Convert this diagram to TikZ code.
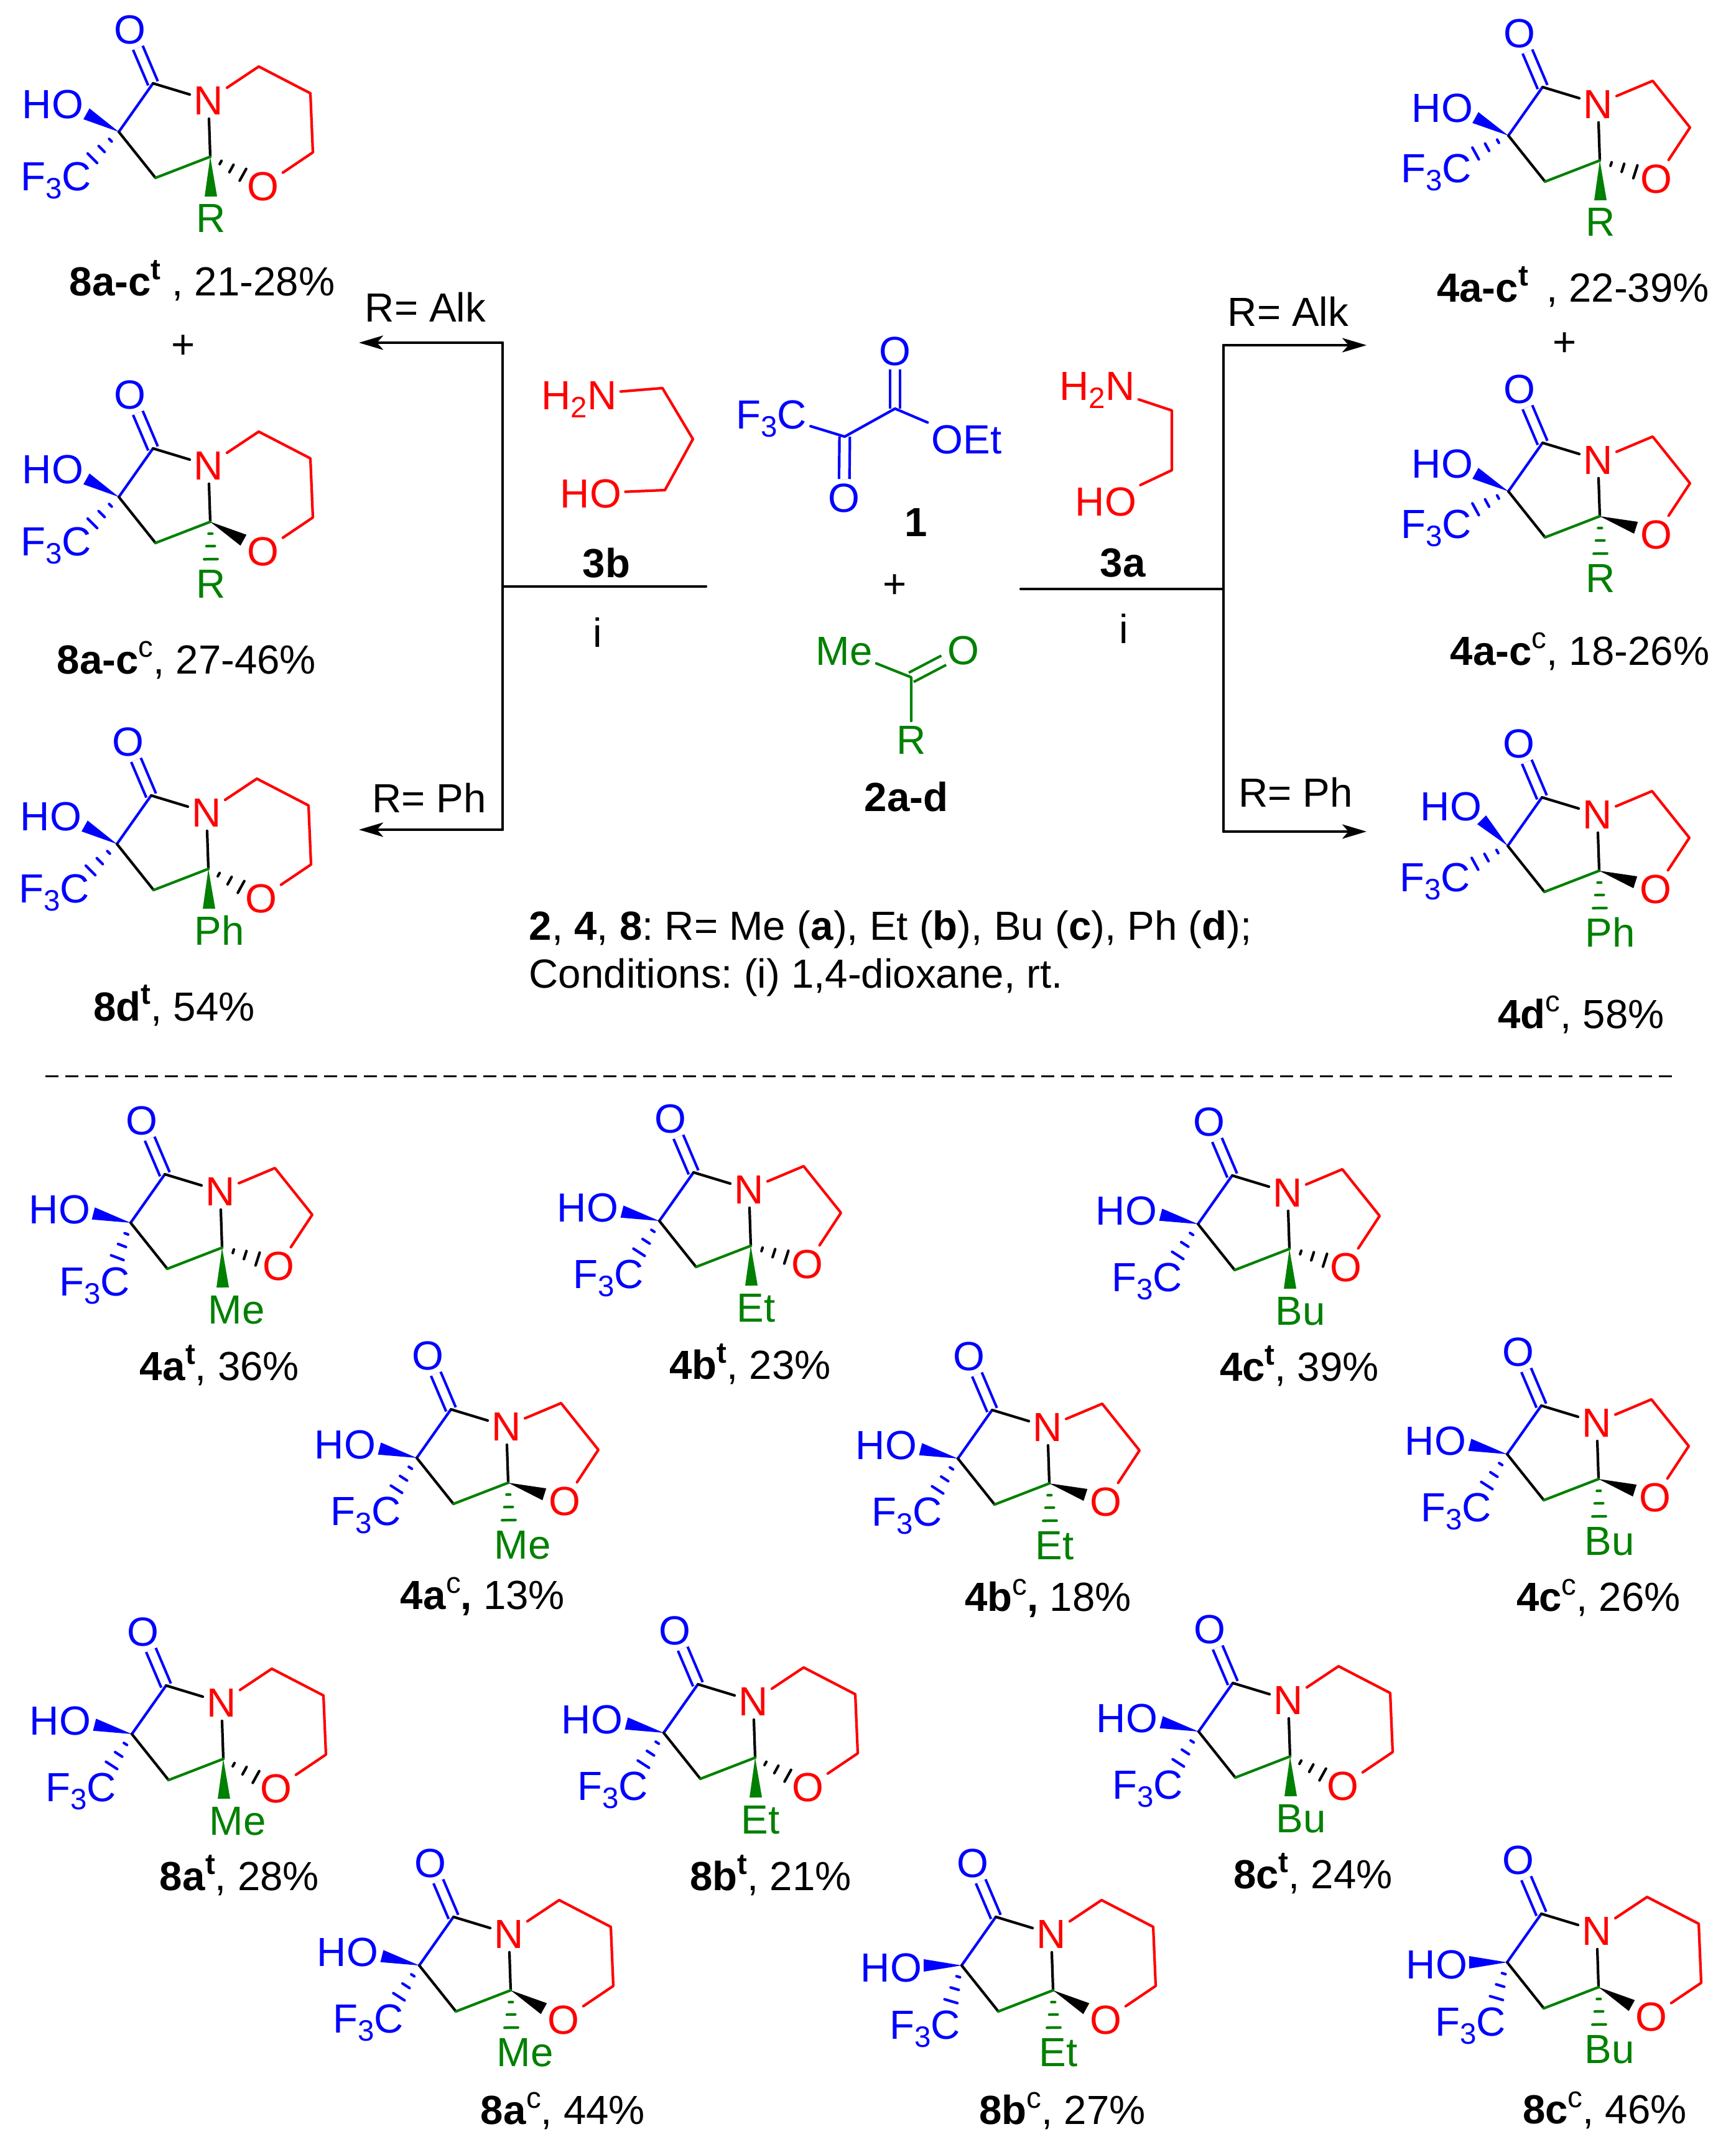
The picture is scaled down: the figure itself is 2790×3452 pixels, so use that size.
\documentclass[tikz,border=0pt]{standalone}
\usepackage{fontspec}
\setmainfont{Liberation Sans}
\usetikzlibrary{calc,arrows.meta}
\definecolor{chemgreen}{RGB}{0,128,0}
\tikzset{
	bond/.style={line width=.042cm,line cap=round,line join=round},
	dblbond/.style={line width=.042cm,double,double distance=.125cm},
	atom/.style={inner sep=1.6pt,text height=.47cm,text depth=0pt},
	atomb/.style={atom,text=blue},
	atomr/.style={atom,text=red},
	atomg/.style={atom,text=chemgreen},
	lab/.style={inner sep=0pt,anchor=base},
	arr/.style={bond,-{Stealth[length=.39cm,width=.23cm,inset=.1cm]}}
}
\newcommand{\lowtxt}[1]{\raisebox{-3.7pt}{\fontsize{13.5}{13.5}\selectfont #1}}
\newcommand{\suptxt}[1]{\raisebox{7.4pt}{\fontsize{13.5}{13.5}\selectfont\bfseries #1}}
\newcommand{\supthin}[1]{\raisebox{7.4pt}{\fontsize{13.5}{13.5}\selectfont #1}}
\newcommand{\wedgebond}[3]{\fill[#3] (#1) -- ($(#2)!.1cm!90:(#1)$) -- ($(#2)!.1cm!-90:(#1)$) -- cycle;}
\newcommand{\hashbond}[3]{\foreach \d/\w in {.19cm/.03cm,.39cm/.068cm,.6cm/.108cm}
	\draw[bond,#3] ($(#1)!\d!(#2)!\w!90:(#2)$) -- ($(#1)!\d!(#2)!\w!-90:(#2)$);}
\newcommand{\setpose}[4]{\def\hoat{#1}\def\wedgeat{#2}\def\fcat{#3}\def\hashat{#4}}
\newcommand{\poseup}{\setpose{-106,-45}{-52,-29}{-101,71}{-42,42}}
\newcommand{\poseupf}{\setpose{-106,-45}{-53,-29}{-116,52}{-53,29}}
\newcommand{\posetop}{\setpose{-91,-64}{-42,-42}{-117,50}{-53,29}}
\newcommand{\posemid}{\setpose{-115,-22}{-60,-15}{-82,85}{-33,51}}
\newcommand{\posenear}{\setpose{-114,-22}{-60,-15}{-58,94}{-21,55}}
\newcommand{\poselow}{\setpose{-113,3}{-61,0}{-59,95}{-17,57}}
\newcommand{\ringfive}[1]{
	\node[atomr] (#1x) at (238,69) {O};
	\draw[bond,red] (#1n) -- (232,-88) -- (292,-13) -- (#1x);}
\newcommand{\ringsix}[1]{
	\node[atomr] (#1x) at (232,87) {O};
	\draw[bond,red] (#1n) -- (225,-105) -- (308,-62) -- (312,33) -- (#1x);}
\newcommand{\stereot}[1]{
	\wedgebond{#1sp}{#1rw}{chemgreen}
	\hashbond{#1sp}{#1x}{black}}
\newcommand{\stereoc}[1]{
	\coordinate (#1xw) at ($(#1sp)!.61cm!(#1x)$);
	\wedgebond{#1sp}{#1xw}{black}
	\hashbond{#1sp}{#1rw}{chemgreen}}
\newcommand{\lactam}[6]{
	\csname pose#5\endcsname
	\begin{scope}[shift={(#2)}]
		\coordinate (#1q) at (0,0);
		\coordinate (#1co) at (55,-78);
		\coordinate (#1ch) at (59,74);
		\coordinate (#1sp) at (147,40);
		\coordinate (#1rw) at (148,104);
		\coordinate (#1hw) at (\wedgeat);
		\coordinate (#1fh) at (\hashat);
		\node[atomb] (#1o) at (18,-165) {O};
		\node[atomr] (#1n) at (144,-51) {N};
		\node[atomb] (#1ho) at (\hoat) {HO};
		\node[atomb] (#1f) at (\fcat) {F\lowtxt{3}C};
		\node[atomg,anchor=base west,inner sep=0pt] (#1r) at (124,162) {#6};
		\csname ring#3\endcsname{#1}
		\draw[dblbond,blue] (#1co) -- (#1o);
		\draw[bond,blue] (#1q) -- (#1co);
		\draw[bond] (#1co) -- (#1n);
		\draw[bond] (#1n) -- (#1sp);
		\draw[bond] (#1q) -- (#1ch);
		\draw[bond,chemgreen] (#1ch) -- (#1sp);
		\wedgebond{#1q}{#1hw}{blue}
		\hashbond{#1q}{#1fh}{blue}
		\csname stereo#4\endcsname{#1}
	\end{scope}}
\begin{document}
\frenchspacing
\begin{tikzpicture}[x=.01cm,y=-.01cm,every node/.style={font=\fontsize{18.6}{20}\selectfont}]
	\useasboundingbox (0,0) rectangle (2790,3452);
	\lactam{s8t}{191,212}{six}{t}{up}{R}
	\lactam{s8c}{191,799}{six}{c}{up}{R}
	\lactam{s8d}{188,1357}{six}{t}{up}{Ph}
	\lactam{f4t}{2425,218}{five}{t}{upf}{R}
	\lactam{f4c}{2425,790}{five}{c}{upf}{R}
	\lactam{f4d}{2424,1360}{five}{c}{top}{Ph}
	\lactam{a4t}{210,1966}{five}{t}{near}{Me}
	\lactam{b4t}{1060,1963}{five}{t}{mid}{Et}
	\lactam{c4t}{1926,1968}{five}{t}{mid}{Bu}
	\lactam{a4c}{670,2344}{five}{c}{mid}{Me}
	\lactam{b4c}{1540,2345}{five}{c}{mid}{Et}
	\lactam{c4c}{2423,2338}{five}{c}{mid}{Bu}
	\lactam{a8t}{212,2788}{six}{t}{mid}{Me}
	\lactam{b8t}{1067,2786}{six}{t}{mid}{Et}
	\lactam{c8t}{1927,2784}{six}{t}{mid}{Bu}
	\lactam{a8c}{674,3160}{six}{c}{mid}{Me}
	\lactam{b8c}{1546,3160}{six}{c}{low}{Et}
	\lactam{c8c}{2423,3155}{six}{c}{low}{Bu}
	\node[lab] (ls8t) at (325,476) {\textbf{8a-c}\suptxt{t} , 21-28\%};
	\node[lab] (ls8c) at (300,1083) {\textbf{8a-c}\supthin{c}, 27-46\%};
	\node[lab] (ls8d) at (280,1641) {\textbf{8d}\suptxt{t}, 54\%};
	\node[lab] (lf4t) at (2529,486) {\textbf{4a-c}\suptxt{t} \,, 22-39\%};
	\node[lab] (lf4c) at (2540,1069) {\textbf{4a-c}\supthin{c}, 18-26\%};
	\node[lab] (lf4d) at (2542,1653) {\textbf{4d}\supthin{c}, 58\%};
	\node[lab] (la4t) at (353,2219) {\textbf{4a}\suptxt{t}, 36\%};
	\node[lab] (lb4t) at (1206,2217) {\textbf{4b}\suptxt{t}, 23\%};
	\node[lab] (lc4t) at (2089,2220) {\textbf{4c}\suptxt{t}, 39\%};
	\node[lab] (la4c) at (776,2587) {\textbf{4a}\supthin{c}\textbf{,} 13\%};
	\node[lab] (lb4c) at (1685,2590) {\textbf{4b}\supthin{c}\textbf{,} 18\%};
	\node[lab] (lc4c) at (2570,2590) {\textbf{4c}\supthin{c}, 26\%};
	\node[lab] (la8t) at (385,3039) {\textbf{8a}\suptxt{t}, 28\%};
	\node[lab] (lb8t) at (1239,3039) {\textbf{8b}\suptxt{t}, 21\%};
	\node[lab] (lc8t) at (2111,3036) {\textbf{8c}\suptxt{t}, 24\%};
	\node[lab] (la8c) at (905,3415) {\textbf{8a}\supthin{c}, 44\%};
	\node[lab] (lb8c) at (1708,3415) {\textbf{8b}\supthin{c}, 27\%};
	\node[lab] (lc8c) at (2580,3414) {\textbf{8c}\supthin{c}, 46\%};
	\node (plusl) at (295,558) {+};
	\node (plusr) at (2516,554) {+};
	\node (plusm) at (1439,943) {+};
	% reagents
	\node[atomr] (amb) at (931,635) {H\lowtxt{2}N};
	\node[atomr] (hob) at (950,793) {HO};
	\draw[bond,red] (amb) -- (1065,624) -- (1114,706) -- (1069,788) -- (hob);
	\node[atomr] (ama) at (1764,620) {H\lowtxt{2}N};
	\node[atomr] (hoa) at (1778,806) {HO};
	\draw[bond,red] (ama) -- (1884,660) -- (1884,756) -- (hoa);
	\node[atomb] (kf) at (1240,666) {F\lowtxt{3}C};
	\coordinate (kc) at (1358,702);
	\coordinate (ke) at (1439,657);
	\node[atomb] (koa) at (1357,800) {O};
	\node[atomb] (kob) at (1439,564) {O};
	\node[atomb] (ket) at (1554,706) {OEt};
	\draw[dblbond,blue] (kc) -- (koa);
	\draw[dblbond,blue] (ke) -- (kob);
	\draw[bond,blue] (kf) -- (kc) -- (ke) -- (ket);
	\node[atomg] (mme) at (1357,1046) {Me};
	\coordinate (mc) at (1465,1089);
	\node[atomg] (mo) at (1549,1045) {O};
	\node[atomg] (mr) at (1465,1189) {R};
	\draw[dblbond,chemgreen] (mc) -- (mo);
	\draw[bond,chemgreen] (mme) -- (mc) -- (mr);
	\node[lab,font=\fontsize{18.6}{20}\selectfont\bfseries] (n1) at (1473,862) {1};
	\node[lab,font=\fontsize{18.6}{20}\selectfont\bfseries] (n2) at (1457,1304) {2a-d};
	\node[lab,font=\fontsize{18.6}{20}\selectfont\bfseries] (n3b) at (975,928) {3b};
	\node[lab,font=\fontsize{18.6}{20}\selectfont\bfseries] (n3a) at (1805,927) {3a};
	\node (ib) at (961,1017) {i};
	\node (ia) at (1807,1011) {i};
	% arrows
	\coordinate (lt) at (808,551);
	\coordinate (lb) at (808,1334);
	\coordinate (rt) at (1967,555);
	\coordinate (rb) at (1967,1337);
	\coordinate (lj) at (1135,943);
	\coordinate (rj) at (1641,947);
	\coordinate (lte) at (577,551);
	\coordinate (lbe) at (577,1334);
	\coordinate (rte) at (2197,555);
	\coordinate (rbe) at (2197,1337);
	\draw[bond] (lt) -- (lb);
	\draw[bond] (rt) -- (rb);
	\draw[bond] (lj) -- (lj-|lt);
	\draw[bond] (rj) -- (rj-|rt);
	\draw[arr] (lt) -- (lte);
	\draw[arr] (lb) -- (lbe);
	\draw[arr] (rt) -- (rte);
	\draw[arr] (rb) -- (rbe);
	\node[lab] (alkl) at (684,518) {R= Alk};
	\node[lab] (phl) at (690,1306) {R= Ph};
	\node[lab] (alkr) at (2071,525) {R= Alk};
	\node[lab] (phr) at (2083,1297) {R= Ph};
	\node[lab,anchor=base west] (cap1) at (850,1511) {\textbf{2}, \textbf{4}, \textbf{8}: R= Me (\textbf{a}), Et (\textbf{b}), Bu (\textbf{c}), Ph (\textbf{d});};
	\node[lab,anchor=base west] (cap2) at (850,1588) {Conditions: (i) 1,4-dioxane, rt.};
	\coordinate (da) at (73,1730);
	\coordinate (db) at (2693,1730);
	\draw[line width=.03cm,dash pattern=on .21cm off .11cm] (da) -- (db);
\end{tikzpicture}
\end{document}
